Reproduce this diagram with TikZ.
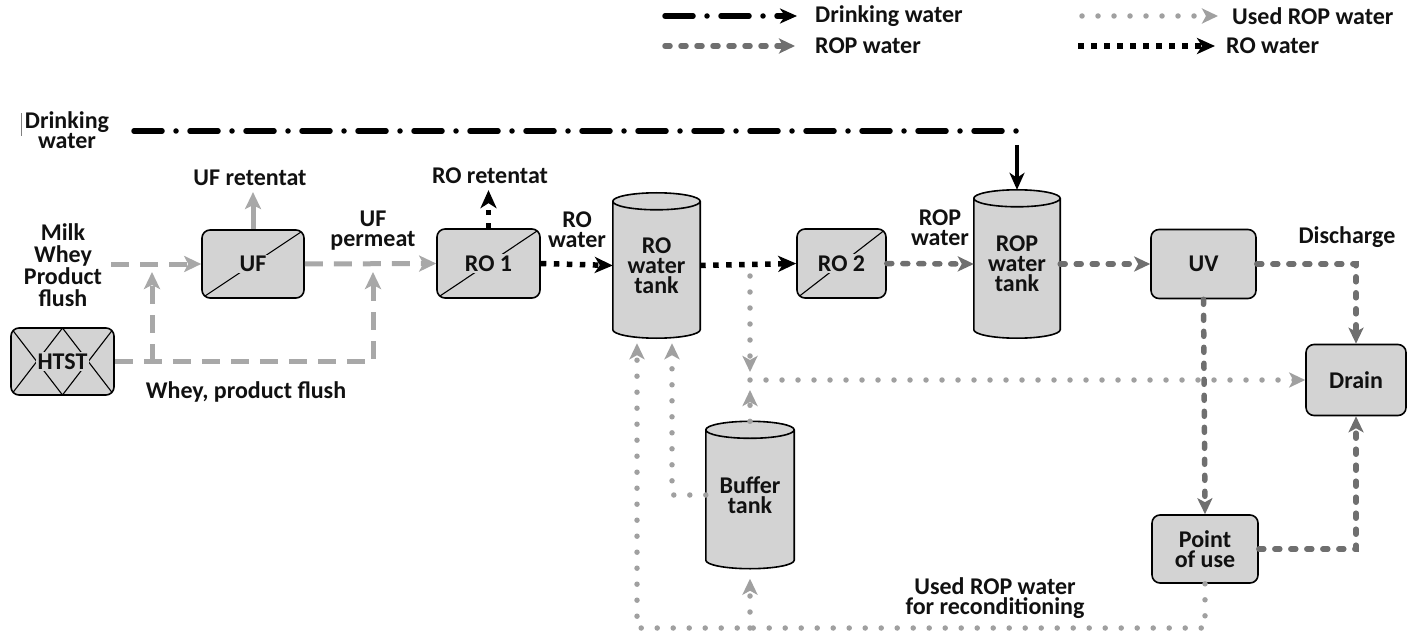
\documentclass[tikz,border=0pt]{standalone}
\usepackage{fontspec}
\setmainfont{Carlito}
\usetikzlibrary{arrows.meta,calc}
\pgfdeclarelayer{bg}
\pgfsetlayers{bg,main}
\definecolor{boxgray}{HTML}{D3D3D3}
\definecolor{ufgray}{HTML}{A8A8A8}
\definecolor{ropgray}{HTML}{6F6F6F}
\definecolor{usedgray}{HTML}{A0A0A0}
\definecolor{ink}{HTML}{111111}
\newcommand\lblfont{\fontsize{24}{20}\selectfont\bfseries}

% upright storage tank drawn round a (text only) node
\newcommand\tankbody[1]{%
  \filldraw[fill=boxgray,draw=black,line width=1.6pt]
    let \p1=(#1.north west), \p2=(#1.south east), \n1={(\x2-\x1)/2} in
    (\x1,\y1-8.5pt) -- (\x1,\y2+8.5pt)
    arc[start angle=180,end angle=360,x radius=\n1,y radius=8.5pt]
    -- (\x2,\y1-8.5pt)
    arc[start angle=0,end angle=180,x radius=\n1,y radius=8.5pt] -- cycle
    (\x1,\y1-8.5pt) arc[start angle=180,end angle=360,x radius=\n1,y radius=8.5pt];}

\begin{document}
\begin{tikzpicture}[x=1pt,y=-1pt,
  every node/.style={font=\lblfont, text=ink},
  procbox/.style={draw=black, line width=1.6pt, fill=boxgray, rounded corners=8pt, inner sep=0pt, align=center},
  membrane/.style={path picture={\draw[line width=1.1pt, sharp corners]
      (path picture bounding box.south west) -- (path picture bounding box.north east);}},
  hxgrid/.style={path picture={\draw[line width=1.1pt, sharp corners]
      (path picture bounding box.north west) -- (path picture bounding box.south)
      -- (path picture bounding box.north east)
      (path picture bounding box.south west) -- (path picture bounding box.north)
      -- (path picture bounding box.south east);}},
  boxlbl/.style={fill=boxgray, inner sep=1.5pt, align=center},
  txt/.style={align=center, inner sep=0pt},
  tankspot/.style={inner sep=0pt, align=center},
  legendtxt/.style={anchor=west, inner sep=0pt},
  ufflow/.style={draw=ufgray, line width=5pt, dash pattern=on 18pt off 11pt,
      -{Stealth[length=17pt,width=16pt,inset=4pt]}},
  ufsolid/.style={draw=ufgray, line width=5pt, -{Stealth[length=17pt,width=16pt,inset=4pt]}},
  ropflow/.style={draw=ropgray, line width=5.5pt, line cap=round, dash pattern=on 5pt off 11pt,
      -{Stealth[length=16pt,width=15pt,inset=4pt]}},
  usedflow/.style={draw=usedgray, line width=5.5pt, line cap=round, dash pattern=on 0pt off 16pt,
      -{Stealth[length=16pt,width=15pt,inset=4pt]}},
  roflow/.style={draw=black, line width=5.5pt, dash pattern=on 5.5pt off 7.5pt,
      -{Stealth[length=18pt,width=16pt,inset=5pt]}},
  drinkflow/.style={draw=black, line width=5.5pt, line cap=round,
      dash pattern=on 28pt off 14pt on 0pt off 14pt},
  drinkarrow/.style={draw=black, line width=4pt, -{Stealth[length=17pt,width=15pt,inset=5pt]}},
]
\useasboundingbox (0,0) rectangle (1407,636);

% ---------- legend ----------
\coordinate (lgdrink) at (665,16);
\coordinate (lgrop) at (665,46);
\coordinate (lgused) at (1082,16);
\coordinate (lgro) at (1078,46);
\node[legendtxt] (lgdrinktxt) at (815,16) {Drinking water};
\node[legendtxt] (lgroptxt) at (815,46) {ROP water};
\node[legendtxt] (lgusedtxt) at (1232,16) {Used ROP water};
\node[legendtxt] (lgrotxt) at (1226,46) {RO water};
\draw[drinkflow, -{Stealth[length=17pt,width=15pt,inset=5pt]}, shorten >=18pt] (lgdrink) -- (lgdrinktxt.west);
\draw[ropflow, shorten >=20pt] (lgrop) -- (lgroptxt.west);
\draw[usedflow, shorten >=14pt] (lgused) -- (lgusedtxt.west);
\draw[roflow, shorten >=11pt] (lgro) -- (lgrotxt.west);

% ---------- equipment ----------
\node[procbox, hxgrid, minimum width=103pt, minimum height=67pt,
      label={[boxlbl]center:HTST}] (htst) at (62.5,361.5) {};
\node[procbox, membrane, minimum width=102pt, minimum height=68pt,
      label={[boxlbl]center:UF}] (uf) at (253,264) {};
\node[procbox, membrane, minimum width=103pt, minimum height=69pt,
      label={[boxlbl]center:RO 1}] (ro1) at (488.5,263.5) {};
\node[procbox, membrane, minimum width=89pt, minimum height=69pt,
      label={[boxlbl]center:RO 2}] (ro2) at (841.5,263.5) {};
\node[procbox, minimum width=105pt, minimum height=69pt] (uv) at (1203.5,264) {UV};
\node[procbox, minimum width=100pt, minimum height=71pt] (drain) at (1356,380) {Drain};
\node[procbox, minimum width=106pt, minimum height=68pt] (pou) at (1205,549) {Point\\of use};

\node[tankspot, minimum width=87pt, minimum height=145pt] (rotank) at (656.5,265.5) {RO\\water\\tank};
\node[tankspot, minimum width=86pt, minimum height=148pt] (roptank) at (1017,264) {ROP\\water\\tank};
\node[tankspot, minimum width=88pt, minimum height=147pt] (buffer) at (750,495) {Buffer\\tank};
\begin{pgfonlayer}{bg}
  \tankbody{rotank}
  \tankbody{roptank}
  \tankbody{buffer}
\end{pgfonlayer}

% ---------- labels ----------
\draw[draw=gray, line width=0.8pt] (21,113) -- (21,136);
\node[txt] (drinklbl) at (67,130) {Drinking\\water};
\node[txt, font=\fontsize{24}{22}\selectfont\bfseries] (milklbl) at (63,265) {Milk\\Whey\\Product\\flush};
\node[txt] (ufret) at (250,178) {UF retentat};
\node[txt] (roret) at (490,176) {RO retentat};
\node[txt] (uflbl) at (373,231) {UF\\permeat};
\node[txt] (rolbl) at (577,230) {RO\\water};
\node[txt] (roplbl) at (940,228) {ROP\\water};
\node[txt] (dischlbl) at (1347,237) {Discharge};
\node[txt] (wheylbl) at (246,392) {Whey, product flush};
\node[txt] (usedlbl) at (995,598) {Used ROP water\\for reconditioning};

% ---------- junction points ----------
\coordinate (milkin) at (111,264);
\coordinate (j1) at (152,264);
\coordinate (j2) at (373,264);
\coordinate (dstart) at (134,131);
\coordinate (dcorner) at (1017,131);
\coordinate (rotap) at (750,264);
\coordinate (jn) at (750,380);
\coordinate (loopcorner) at (637,628);
\coordinate (buftap) at (750,628);
\coordinate (bufleft) at (672,495);

% ---------- used ROP water (drawn first, under the rest) ----------
\draw[usedflow, shorten >=5pt] (pou.south) |- (loopcorner) -- (loopcorner |- rotank.south);
\draw[usedflow, shorten >=10pt] (buftap) -- (buffer.south);
\draw[usedflow, shorten >=5pt] (buffer.west) -- (bufleft) -- (bufleft |- rotank.south);
\draw[usedflow, shorten <=12pt, shorten >=8pt] (rotap) -- (jn);
\draw[usedflow, shorten >=10pt] (buffer.north) -- (jn);
\draw[usedflow] (jn) -- (drain.west);

% ---------- milk / UF side ----------
\draw[ufflow] (milkin) -- (uf.west);
\draw[ufflow] (uf.east) -- (ro1.west);
\draw[ufflow, shorten >=8pt] (htst.east) -| (j2);
\draw[ufflow, shorten >=8pt] (j1 |- htst.east) -- (j1);
\draw[ufsolid, shorten >=6pt] (uf.north) -- (uf.north |- ufret.south);

% ---------- RO water ----------
\draw[roflow, shorten >=6pt] (ro1.north) -- (ro1.north |- roret.south);
\draw[roflow] (ro1.east) -- (rotank.west);
\draw[roflow] (rotank.east) -- (ro2.west);

% ---------- ROP water ----------
\draw[ropflow] (ro2.east) -- (roptank.west);
\draw[ropflow] (roptank.east) -- (uv.west);
\draw[ropflow] (uv.east) -| (drain.north);
\draw[ropflow] (uv.south) -- (pou.north);
\draw[ropflow] (pou.east) -| (drain.south);

% ---------- drinking water ----------
\draw[drinkflow] (dstart) -- (dcorner);
\draw[drinkarrow] ($(dcorner)+(0,14)$) -- (roptank.north);
\end{tikzpicture}
\end{document}
